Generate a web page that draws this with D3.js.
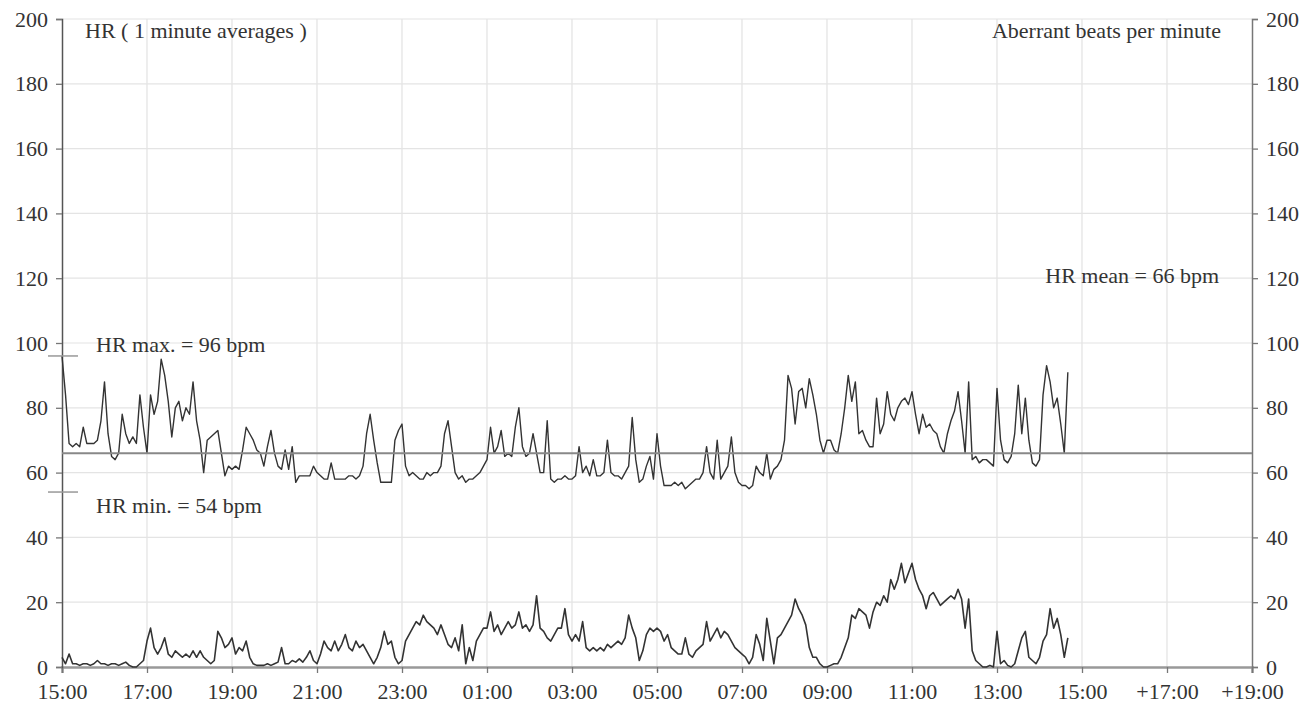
<!DOCTYPE html>
<html>
<head>
<meta charset="utf-8">
<script src="https://cdn.jsdelivr.net/npm/d3@7"></script>
<style>
  body { margin: 0; background: #fff; }
  svg text { font-family: "Times New Roman", "Liberation Serif", "DejaVu Serif", serif; fill: #333; }
</style>
</head>
<body>
<div id="chart"></div>
<script>
// 5 minute samples, starting 15:00
var startLabel = "15:00";
var stepMinutes = 5;

var xTickLabels = ["15:00", "17:00", "19:00", "21:00", "23:00", "01:00", "03:00", "05:00",
    "07:00", "09:00", "11:00", "13:00", "15:00", "+17:00", "+19:00"];
var yTicks = [0, 20, 40, 60, 80, 100, 120, 140, 160, 180, 200];

var hrMax = 96;
var hrMin = 54;
var hrMean = 66;

var heartRate = [
    96, 84, 69, 68, 69, 68, 74, 69, 69, 69, 70, 76,
    88, 72, 65, 64, 66, 78, 72, 69, 71, 69, 84, 74,
    66, 84, 78, 82, 95, 90, 82, 71, 80, 82, 76, 80,
    78, 88, 76, 70, 60, 70, 71, 72, 73, 66, 59, 62,
    61, 62, 61, 67, 74, 72, 70, 67, 66, 62, 68, 73,
    66, 62, 61, 67, 61, 68, 57, 59, 59, 59, 59, 62,
    60, 59, 58, 58, 63, 58, 58, 58, 58, 59, 59, 58,
    59, 62, 72, 78, 70, 63, 57, 57, 57, 57, 70, 73,
    75, 62, 59, 60, 59, 58, 58, 60, 59, 60, 60, 62,
    72, 76, 68, 60, 58, 59, 57, 58, 58, 59, 60, 62,
    64, 74, 66, 68, 73, 65, 66, 65, 74, 80, 68, 65,
    66, 72, 66, 60, 60, 76, 58, 57, 58, 58, 59, 58,
    58, 59, 68, 60, 62, 59, 64, 59, 59, 60, 70, 60,
    59, 59, 58, 60, 62, 77, 64, 57, 58, 62, 65, 58,
    72, 62, 56, 56, 56, 57, 56, 57, 55, 56, 57, 58,
    58, 60, 68, 60, 58, 70, 58, 60, 62, 71, 60, 57,
    56, 56, 55, 56, 62, 60, 59, 66, 58, 61, 62, 64,
    70, 90, 86, 75, 85, 86, 80, 89, 84, 78, 70, 66,
    70, 70, 67, 66, 72, 80, 90, 82, 88, 72, 73, 70,
    68, 68, 83, 72, 75, 85, 78, 76, 80, 82, 83, 81,
    85, 78, 72, 78, 74, 75, 73, 72, 68, 66, 72, 76,
    79, 85, 76, 66, 88, 64, 65, 63, 64, 64, 63, 62,
    86, 70, 64, 63, 65, 72, 87, 72, 83, 70, 63, 62,
    64, 84, 93, 88, 80, 83, 75, 66, 91
];

var aberrant = [
    3, 1, 4, 1, 1, 0.5, 1, 1, 0.5, 1, 2, 1,
    1, 0.5, 1, 1, 0.5, 1, 1.5, 0.5, 0, 0, 1, 2,
    8, 12, 6, 4, 6, 9, 4, 3, 5, 4, 3, 4,
    3, 5, 3, 5, 3, 2, 1, 2, 11, 9, 6, 7,
    9, 4, 6, 5, 8, 3, 1, 0.5, 0.5, 0.5, 1, 0.5,
    1, 1.5, 6, 1, 1, 2, 1.5, 2.5, 1.5, 3, 5, 2,
    1, 4, 8, 6, 5, 8, 5, 7, 10, 6, 5, 8,
    6, 7, 5, 3, 1, 3, 6, 11, 7, 8, 3, 1,
    2, 8, 10, 12, 14, 13, 16, 14, 13, 12, 10, 13,
    10, 7, 6, 9, 5, 13, 1, 6, 2, 8, 10, 12,
    12, 17, 11, 13, 10, 12, 14, 12, 13, 17, 12, 13,
    11, 13, 22, 12, 11, 9, 8, 10, 12, 12, 18, 10,
    8, 10, 8, 14, 6, 5, 6, 5, 6, 5, 7, 6,
    7, 8, 7, 9, 16, 12, 9, 2, 5, 10, 12, 11,
    12, 11, 8, 10, 6, 5, 4, 4, 9, 4, 3, 5,
    6, 7, 14, 8, 10, 12, 9, 11, 10, 8, 6, 5,
    4, 3, 1, 3, 10, 7, 2, 15, 8, 1, 9, 10,
    12, 14, 16, 21, 18, 16, 13, 6, 3, 3, 1, 0,
    0, 0.5, 1, 1, 3, 6, 9, 16, 15, 18, 17, 16,
    12, 17, 20, 19, 22, 20, 27, 24, 27, 32, 26, 29,
    32, 27, 24, 22, 18, 22, 23, 21, 19, 20, 21, 22,
    21, 24, 21, 12, 21, 5, 2, 1, 0, 0, 0.5, 0,
    11, 1, 2, 0.5, 0, 1, 5, 9, 11, 3, 2, 1,
    3, 8, 10, 18, 12, 15, 10, 3, 9
];

var width = 1313, height = 711;
var margin = { top: 19, right: 61, bottom: 44, left: 62 };
var serif = "'Times New Roman', 'Liberation Serif', 'DejaVu Serif', serif";

var svg = d3.select("#chart").append("svg")
    .attr("width", width)
    .attr("height", height)
    .attr("font-family", serif);

// x in minutes since 15:00, 28 hours shown
var x = d3.scaleLinear()
    .domain([0, (xTickLabels.length - 1) * 120])
    .range([margin.left, width - margin.right]);

var y = d3.scaleLinear()
    .domain([0, 200])
    .range([height - margin.bottom, margin.top]);

var xTickValues = xTickLabels.map(function(d, i) { return i * 120; });

// grid
svg.append("g")
    .selectAll("line.vgrid")
    .data(xTickValues.slice(1, -1))
    .enter().append("line")
    .attr("x1", function(d) { return x(d); })
    .attr("x2", function(d) { return x(d); })
    .attr("y1", y(200))
    .attr("y2", y(0))
    .attr("stroke", "#e2e2e2")
    .attr("stroke-width", 1.2);

svg.append("g")
    .selectAll("line.hgrid")
    .data(yTicks.slice(1))
    .enter().append("line")
    .attr("x1", x.range()[0])
    .attr("x2", x.range()[1])
    .attr("y1", function(d) { return y(d); })
    .attr("y2", function(d) { return y(d); })
    .attr("stroke", "#e4e4e4")
    .attr("stroke-width", 1.2);

// axes
var fmt = function(d, i) { return xTickLabels[i]; };

var xAxis = svg.append("g")
    .attr("transform", "translate(0," + y(0) + ")")
    .call(d3.axisBottom(x).tickValues(xTickValues).tickFormat(fmt).tickSize(6).tickPadding(10));

var leftAxis = svg.append("g")
    .attr("transform", "translate(" + x.range()[0] + ",0)")
    .call(d3.axisLeft(y).tickValues(yTicks).tickSize(6).tickPadding(8));

var rightAxis = svg.append("g")
    .attr("transform", "translate(" + x.range()[1] + ",0)")
    .call(d3.axisRight(y).tickValues(yTicks).tickSize(6).tickPadding(8));

[xAxis, leftAxis, rightAxis].forEach(function(a) {
    a.attr("font-family", serif).attr("font-size", 22);
    a.selectAll("text").attr("fill", "#333");
    a.selectAll("line").attr("stroke", "#777").attr("stroke-width", 1.3);
    a.select(".domain").attr("stroke", "#777").attr("stroke-width", 1.5);
});
leftAxis.select(".domain").attr("stroke", "#555");
xAxis.select(".domain").attr("stroke", "#999").attr("stroke-width", 2.5);

// series
var line = d3.line()
    .x(function(d, i) { return x(i * stepMinutes); })
    .y(function(d) { return y(d); });

svg.append("path")
    .datum(aberrant)
    .attr("fill", "none")
    .attr("stroke", "#333")
    .attr("stroke-width", 1.6)
    .attr("stroke-linejoin", "round")
    .attr("d", line);

svg.append("path")
    .datum(heartRate)
    .attr("fill", "none")
    .attr("stroke", "#333")
    .attr("stroke-width", 1.4)
    .attr("stroke-linejoin", "round")
    .attr("d", line);

// mean line
svg.append("line")
    .attr("x1", x.range()[0])
    .attr("x2", x.range()[1])
    .attr("y1", y(hrMean))
    .attr("y2", y(hrMean))
    .attr("stroke", "#888")
    .attr("stroke-width", 2);

// max / min markers
[hrMax, hrMin].forEach(function(v) {
    svg.append("line")
        .attr("x1", x.range()[0] - 14)
        .attr("x2", x.range()[0] + 16)
        .attr("y1", y(v))
        .attr("y2", y(v))
        .attr("stroke", "#999")
        .attr("stroke-width", 1.5);
});

// labels
var label = function(txt, px, py, anchor) {
    svg.append("text")
        .text(txt)
        .attr("x", px)
        .attr("y", py)
        .attr("text-anchor", anchor || "start")
        .attr("font-size", 22);
};

label("HR ( 1 minute averages )", 85, 38);
label("Aberrant beats  per minute", 1221, 38, "end");
label("HR mean = " + hrMean + " bpm", 1219, 283, "end");
label("HR max. = " + hrMax + " bpm", 96, 352);
label("HR min. = " + hrMin + " bpm", 96, 513);
</script>
</body>
</html>
